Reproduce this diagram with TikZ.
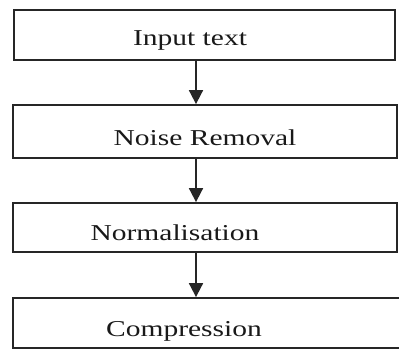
\documentclass[tikz,border=0pt]{standalone}
\usepackage{fontspec}
\setmainfont{Liberation Serif}
\usetikzlibrary{arrows.meta}
\tikzset{
  boxnode/.style={draw=black!85, line width=1.8pt, rectangle, inner sep=0pt},
  labelnode/.style={anchor=base, inner sep=0pt, text=black!90, font=\fontsize{22.7}{27}\selectfont},
  flowarrow/.style={draw=black!85, line width=1.8pt, -{Triangle[length=14pt,width=14pt]}}
}
\newcommand{\wide}[1]{\scalebox{1.3}[1]{#1}}
\begin{document}
\begin{tikzpicture}[x=1pt,y=-1pt]
\useasboundingbox (0,0) rectangle (399,351);
\clip (0,0) rectangle (399,351);
\fill[white] (0,0) rectangle (399,351);
\node[boxnode, minimum width=381pt, minimum height=50pt] (b1) at (204.5,35) {};
\node[boxnode, minimum width=384pt, minimum height=53pt] (b2) at (205,131.5) {};
\node[boxnode, minimum width=384pt, minimum height=49pt] (b3) at (205,227.5) {};
\node[boxnode, minimum width=410pt, minimum height=50pt] (b4) at (218,323) {};
\node[labelnode] (t1) at (190,45) {\wide{Input text}};
\node[labelnode] (t2) at (205,145) {\wide{Noise Removal}};
\node[labelnode] (t3) at (175,240) {\wide{Normalisation}};
\node[labelnode] (t4) at (184,336) {\wide{Compression}};
\coordinate (ax) at (196,0);
\draw[flowarrow] (b1.south -| ax) -- (b2.north -| ax);
\draw[flowarrow] (b2.south -| ax) -- (b3.north -| ax);
\draw[flowarrow] (b3.south -| ax) -- (b4.north -| ax);
\end{tikzpicture}
\end{document}
